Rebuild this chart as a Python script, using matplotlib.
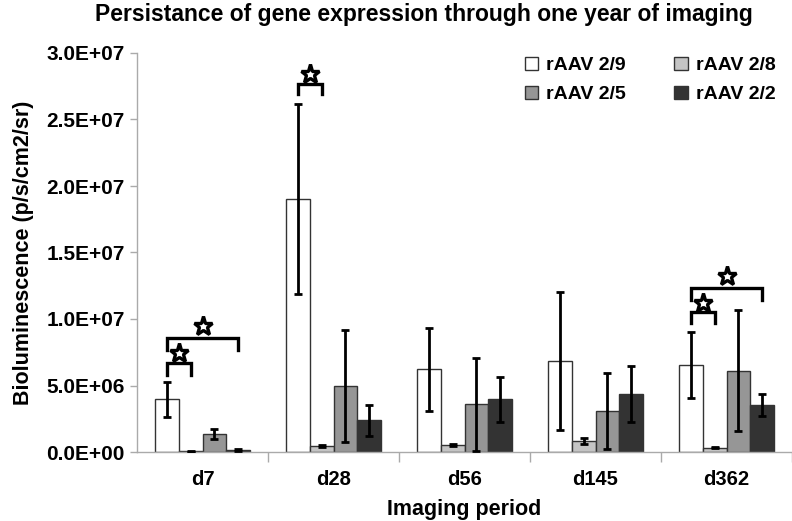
import matplotlib
matplotlib.use("Agg")
import matplotlib.pyplot as plt
from matplotlib.ticker import FuncFormatter, FixedLocator
from matplotlib.patches import Patch
import numpy as np

plt.rcParams["font.family"] = ["Liberation Sans", "DejaVu Sans"]
plt.rcParams["font.weight"] = "bold"

periods = ["d7", "d28", "d56", "d145", "d362"]
serotypes = ["rAAV 2/9", "rAAV 2/8", "rAAV 2/5", "rAAV 2/2"]
colors = ["#ffffff", "#c4c4c4", "#969696", "#333333"]

# mean bioluminescence (p/s/cm2/sr), one list per serotype, in period order
aav29 = [3.95e6, 19.0e6, 6.24e6, 6.84e6, 6.54e6]
aav28 = [0.05e6, 0.45e6, 0.53e6, 0.83e6, 0.32e6]
aav25 = [1.35e6, 4.96e6, 3.58e6, 3.08e6, 6.10e6]
aav22 = [0.15e6, 2.38e6, 3.95e6, 4.36e6, 3.53e6]

err29 = [1.30e6, 7.15e6, 3.12e6, 5.20e6, 2.48e6]
err28 = [0.02e6, 0.05e6, 0.10e6, 0.25e6, 0.05e6]
err25 = [0.37e6, 4.20e6, 3.50e6, 2.85e6, 4.55e6]
err22 = [0.05e6, 1.17e6, 1.70e6, 2.10e6, 0.83e6]

# significance brackets: (period index, bar a, bar b, bracket top, leg bottom, star y)
brackets = [
    (0, 0, 1, 6.7e6, 5.8e6, 7.45e6),
    (0, 0, 3, 8.6e6, 7.7e6, 9.5e6),
    (1, 0, 1, 27.7e6, 26.9e6, 28.4e6),
    (4, 0, 1, 10.5e6, 9.7e6, 11.2e6),
    (4, 0, 3, 12.3e6, 11.4e6, 13.2e6),
]

means = [aav29, aav28, aav25, aav22]
errs = [err29, err28, err25, err22]

fig = plt.figure(figsize=(7.92, 5.21), dpi=100)
ax = fig.add_axes([137 / 792, 1 - 452 / 521, 655 / 792, (452 - 53) / 521])

x = np.arange(len(periods))
w = 0.183
offsets = (np.arange(4) - 1.5) * w
for i in range(4):
    ax.bar(x + offsets[i], means[i], width=w, color=colors[i],
           edgecolor="#333333", linewidth=1.0, zorder=2)
    ax.errorbar(x + offsets[i], means[i], yerr=errs[i], fmt="none",
                ecolor="black", elinewidth=2, capsize=3, capthick=2, zorder=3)

for p, a, b, top, leg, star in brackets:
    xa, xb = p + offsets[a], p + offsets[b]
    ax.plot([xa, xa, xb, xb], [leg, top, top, leg], color="black", lw=2.4,
            solid_joinstyle="miter", zorder=4)
    ax.plot((xa + xb) / 2, star, marker="*", ms=14, mfc="white", mec="black",
            mew=2.4, zorder=5)

ax.set_xlim(-0.5, len(periods) - 0.5)
ax.set_ylim(0, 3.0e7)
ax.set_yticks(np.arange(0, 3.01e7, 5e6))
ax.yaxis.set_major_formatter(FuncFormatter(lambda v, _: f"{v:.1E}"))
ax.set_xticks(x)
ax.set_xticklabels(periods)
ax.xaxis.set_minor_locator(FixedLocator(np.arange(0.5, len(periods), 1.0)))
ax.tick_params(axis="x", which="major", length=0, pad=13, labelsize=14.5)
ax.tick_params(axis="x", which="minor", length=7, color="#aaaaaa", width=1)
ax.tick_params(axis="y", length=5, color="#aaaaaa", width=1, labelsize=15, pad=4)
for lab in ax.get_xticklabels() + ax.get_yticklabels():
    lab.set_fontweight("bold")

for s in ["top", "right"]:
    ax.spines[s].set_visible(False)
for s in ["left", "bottom"]:
    ax.spines[s].set_color("#aaaaaa")
    ax.spines[s].set_linewidth(1)

ax.set_ylabel("Bioluminescence (p/s/cm2/sr)", fontsize=15.5, fontweight="bold",
              labelpad=9)
ax.set_xlabel("Imaging period", fontsize=15.5, fontweight="bold", labelpad=7)

fig.text(0.535, 0.972, "Persistance of gene expression through one year of imaging",
         ha="center", va="center", fontsize=16.5, fontweight="bold")

handles = [Patch(facecolor=c, edgecolor="#333333", linewidth=1.0) for c in colors]
order = [0, 2, 1, 3]
ax.legend([handles[k] for k in order], [serotypes[k] for k in order], ncol=2,
          loc="upper left", bbox_to_anchor=(0.565, 1.035), frameon=False,
          prop={"size": 14, "weight": "bold"}, handlelength=0.7, handleheight=0.7,
          handletextpad=0.4, columnspacing=2.5, labelspacing=0.6)

fig.savefig("out.png", dpi=100)
